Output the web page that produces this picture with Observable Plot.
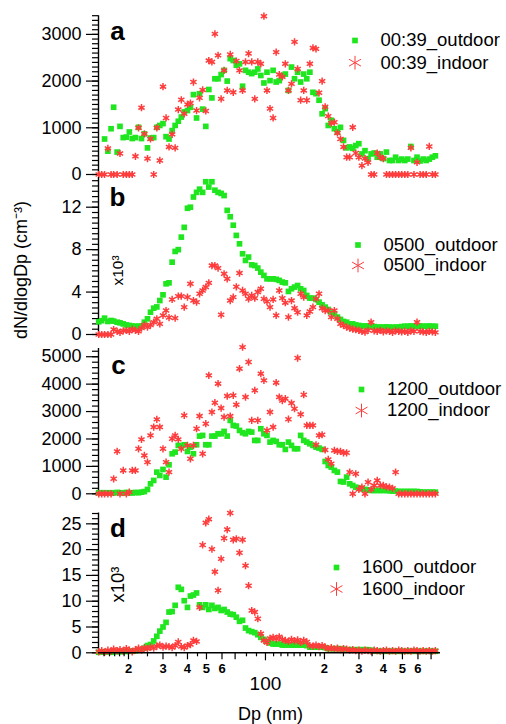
<!DOCTYPE html>
<html><head><meta charset="utf-8">
<script src="https://cdn.jsdelivr.net/npm/d3@7"></script>
<script src="https://cdn.jsdelivr.net/npm/@observablehq/plot@0.6"></script>
<style>
html,body{margin:0;padding:0;background:#fff;}
#chart{position:relative;width:506px;height:724px;font-family:"Liberation Sans",Arial,Helvetica,sans-serif;}
#chart svg{position:absolute;left:0;top:0;background:transparent;}
</style></head><body><div id="chart"></div>
<script>
// particle diameter channels (nm)
const dp = [14.1,14.6,15.1,15.7,16.3,16.8,17.5,18.1,18.8,19.5,
 20.2,20.9,21.7,22.5,23.3,24.1,25.0,25.9,26.9,27.9,
 28.9,30.0,31.1,32.2,33.4,34.6,35.9,37.2,38.5,40.0,
 41.4,42.9,44.5,46.1,47.8,49.6,51.4,53.3,55.2,57.3,
 59.4,61.5,63.8,66.1,68.5,71.0,73.7,76.4,79.1,82.0,
 85.1,88.2,91.4,94.7,98.2,101.8,105.5,109.4,113.4,117.6,
 121.9,126.3,131.0,135.8,140.7,145.9,151.2,156.8,162.5,168.5,
 174.7,181.1,187.7,194.6,201.7,209.1,216.7,224.7,232.9,241.4,
 250.3,259.5,269.0,278.8,289.0,299.6,310.6,322.0,333.8,346.0,
 358.7,371.8,385.4,399.5,414.2,429.4,445.1,461.4,478.3,495.8,
 514.0,532.8,552.3,572.5,593.5,615.3,637.8,661.2,685.4,710.5,
 736.5];

// panel a (cm^-3)
const aOut = [null,null,760,500,980,1440,480,1030,790,800,
 910,770,790,1010,770,870,570,780,790,1010,
 1050,1090,810,760,940,1050,1140,1230,1340,1370,
 1440,1710,1210,1730,1400,1030,1820,1640,2050,2050,
 2140,2230,2000,2480,2440,2340,2370,1890,2230,2190,
 2160,2190,2260,2120,1960,2190,2010,2230,1980,2010,
 2120,2150,1800,2300,2050,2190,1980,2150,2050,2190,
 1760,1730,1590,1300,1410,1050,1160,980,910,1010,
 730,570,590,560,620,660,440,510,340,440,
 460,370,440,340,480,300,300,370,300,330,
 300,330,600,300,370,290,330,300,330,370,
 400];
const aIn = [0,0,0,560,0,0,0,450,0,0,
 0,0,390,1000,1430,870,340,760,0,1000,
 300,1880,1210,590,860,570,1390,1600,1300,1500,
 1530,1980,1370,1640,1810,1360,2440,2410,3010,2550,
 1620,2230,1800,2570,1760,2430,2230,1800,2410,2590,
 2410,1620,2410,2370,3390,1800,1410,1210,2620,2140,
 2090,2370,1800,1940,2840,2260,1590,1800,1590,2370,
 2710,2690,1750,2000,1450,1250,1100,1120,890,760,
 590,370,370,1010,460,370,190,340,260,0,
 0,460,370,340,0,0,0,0,0,0,
 0,0,570,0,260,0,0,0,600,0,
 0];
// panel b (x10^3 cm^-3)
const bOut = [1.2,1.3,1.54,1.23,1.32,1.26,1.16,1.1,1.0,0.9,
 0.85,0.8,0.78,0.78,0.8,1.16,1.48,2.1,2.48,2.6,
 3.2,3.74,4.78,4.87,6.82,7.83,8.0,9.18,10.1,11.9,
 12.0,12.96,13.4,13.7,13.4,14.4,13.9,14.4,13.6,13.4,
 13.3,13.1,11.7,11.1,10.3,9.34,8.55,7.61,6.98,7.3,
 6.57,6.5,6.26,5.88,5.57,5.25,5.25,5.25,5.2,5.1,
 4.94,4.87,4.06,4.31,4.47,4.62,4.31,4.15,3.68,3.43,
 3.43,3.3,3.05,2.8,2.58,2.36,2.1,1.95,1.64,1.42,
 1.23,1.16,1.0,1.0,0.9,0.85,0.8,0.8,0.8,0.75,
 0.75,0.7,0.7,0.7,0.72,0.7,0.68,0.7,0.7,0.75,
 0.78,0.78,0.8,0.78,0.78,0.8,0.78,0.78,0.8,0.78,
 0.78];
const bIn = [0,0,0,0,0,0.47,0.3,0.2,0.35,0.4,
 0.3,0.5,0.4,0.3,0.6,0.9,0.7,0.9,1.16,1.48,
 1.0,1.8,2.26,1.6,3.3,1.54,3.62,3.62,2.58,3.52,
 4.78,3.2,3.05,3.84,4.15,4.47,4.87,6.5,6.5,6.26,
 1.86,5.72,5.25,3.2,3.52,4.5,5.79,4.15,3.84,3.36,
 3.68,3.43,4.0,4.31,3.36,3.11,2.58,3.3,1.8,4.15,
 3.43,3.0,1.64,3.2,2.48,2.1,3.84,3.52,1.8,2.17,
 2.58,3.36,3.84,2.48,2.26,2.26,1.64,2.26,1.48,1.0,
 0.85,0.7,0.6,0.5,0.45,0.4,0.3,0.22,0.4,1.16,
 0.35,0.3,0.4,0.25,0.35,0.3,0.2,0.35,0.3,0.25,
 0.3,0.2,0.35,0.3,1.16,0.3,0.25,0.2,0.3,0.25,
 0.2];
// panel c (cm^-3)
const cOut = [40,30,40,30,40,30,50,40,30,50,
 40,30,50,40,60,80,160,365,487,790,
 670,888,608,1059,1460,1521,1765,1740,1789,1546,
 1704,1460,1789,2105,2130,1789,1789,2105,2105,2190,
 2190,2276,2105,2677,2495,2470,2312,2227,2190,2276,
 2251,1947,1947,2373,2190,2130,1886,1947,1910,1789,
 1789,1619,1886,1765,1643,1643,2130,1947,1886,1825,
 1765,1704,1668,1619,1180,1034,974,852,791,450,
 430,608,365,304,243,210,183,160,140,122,
 122,122,122,122,122,110,100,100,85,85,
 85,85,85,85,85,70,60,60,60,60,
 60];
const cIn = [0,0,0,0,0,548,1546,0,852,0,
 60,852,852,1643,1984,1400,1156,2130,2434,2714,
 2434,1643,1156,791,2008,2130,1984,1643,2860,1765,
 1278,1765,2373,2836,1460,2556,4320,2982,3322,4016,
 3128,2800,3566,2836,3590,3250,4564,5350,3529,4807,
 2677,3773,2677,4381,4138,2312,2982,2434,4053,3529,
 3400,3470,2720,3310,3103,4953,2900,3614,2495,2495,
 2495,1789,2130,2154,1600,1253,1100,1582,1546,1546,
 1497,1497,791,0,730,158,243,0,426,158,
 300,487,304,304,250,243,200,791,0,0,
 0,0,0,0,0,0,0,0,0,0,
 0];
// panel d (x10^3 cm^-3)
const dOut = [0.1,0.2,0.15,0.2,0.1,0.2,0.25,0.2,0.3,0.25,
 0.3,0.3,0.4,0.5,0.6,0.9,1.4,1.6,2.3,3.2,
 4.2,5.0,5.9,7.9,8.0,9.2,12.7,12.3,10.1,8.8,
 11.0,11.2,11.6,9.3,8.8,9.3,8.4,9.2,8.6,8.8,
 8.2,8.4,7.9,7.5,7.4,6.9,6.1,6.3,4.8,4.3,
 4.1,3.9,3.5,3.0,2.6,2.2,1.9,1.7,1.7,1.7,
 1.5,1.5,1.5,1.5,1.5,1.5,1.5,1.5,1.4,1.1,
 1.1,1.1,1.1,1.1,1.0,0.8,0.8,0.8,0.8,0.8,
 0.7,0.6,0.6,0.6,0.6,0.6,0.6,0.6,0.6,0.5,
 0.4,0.3,0.3,0.3,0.3,0.3,0.3,0.3,0.3,0.3,
 0.3,0.3,0.3,0.3,0.3,0.3,0.3,0.3,0.3,0.3,
 0.3];
const dIn = [0.2,0.4,0.1,0.5,0.3,0.7,0.4,0.6,0.3,0.8,
 0.5,0.2,0.6,0.9,0.5,1.0,0.8,1.1,0.9,1.3,
 1.5,1.1,1.3,1.2,1.0,1.4,2.1,1.2,1.0,1.4,
 1.6,2.4,2.2,8.8,20.9,25.2,25.9,20.1,15.7,12.1,
 18.2,22.2,23.9,27.1,21.9,22.1,19.4,21.9,16.9,13.0,
 8.2,7.9,6.6,3.7,2.4,2.0,2.8,3.0,2.7,3.1,
 2.6,2.4,2.2,2.6,2.3,2.5,2.0,2.4,2.1,1.4,
 1.3,1.5,1.2,1.4,1.1,0.8,1.0,0.7,0.9,0.6,
 0.8,0.7,0.5,0.6,0.4,0.5,0.3,0.5,0.4,0.3,
 0.5,0.4,0.3,0.4,0.5,0.3,0.4,0.3,0.5,0.4,
 0.3,0.4,0.3,0.5,0.4,0.3,0.4,0.3,0.4,0.3,
 0.4];

const panelKeys = ["a","b","c","d"];
const legendOut = ["00:39_outdoor","0500_outdoor","1200_outdoor","1600_outdoor"];
const legendIn = ["00:39_indoor","0500_indoor","1200_indoor","1600_indoor"];
const yMajor = [[0,1000,2000,3000],[0,4,8,12],[0,1000,2000,3000,4000,5000],[0,5,10,15,20,25]];
const yMinorStep = [100, 0.5, 200, 1];
const yMax = [3400, 14.8, 5300, 27.1];
const xDomain = [14.06, 782];
const xMajor = [20,30,40,50,60,70,200,300,400,500,600,700];
const xMajorLabels = ["2","3","4","5","6","7","2","3","4","5","6","7"];
const xHundred = [100];
const xMinor = [15,16,17,18,19,25,35,45,80,90,110,120,130,140,150,160,170,180,190,250,350];
const yTitle = "dN/dlogDp (cm\u207B\u00B3)";
const xTitle = "Dp (nm)";
const unitNote = "x10\u00B3";

const series = [[aOut,aIn],[bOut,bIn],[cOut,cIn],[dOut,dIn]];

const GREEN = "#1fe61f", RED = "#ff3c3c";
// layout (pixels)
const layout = [
  {top:15.2, bottom:174,  letter:[19,15.5],  leg:[256.5,24.8,47], note:null},
  {top:177,  bottom:334,  letter:[19,20],  leg:[259.5,67.5,88], note:[19.5,93,15.5]},
  {top:348,  bottom:493.3,letter:[20,17],leg:[263,41,62], note:null},
  {top:512.5,bottom:652.3,letter:[19.5,16],leg:[238,54.5,76], note:[19.5,71.5,18.5]}
];

const chart = document.getElementById("chart");
const fontFamily = "'Liberation Sans', Arial, Helvetica, sans-serif";
const mid = {textAnchor: "middle", lineAnchor: "middle"};

panelKeys.forEach((key, k) => {
  const L = layout[k];
  const [outV, inV] = series[k];
  const data = dp.map((d, i) => ({dp: d, out: outV[i], ind: inV[i]}));
  const minor = d3.range(0, yMax[k] + 1e-9, yMinorStep[k]);
  const isBottom = k === 3;
  const marks = [
    Plot.axisY({ticks: minor, tickSize: 6, tickFormat: () => "", strokeWidth: 1.2}),
    Plot.axisY({ticks: yMajor[k], tickSize: 12, tickPadding: 5, fontSize: 18, tickFormat: d => String(d), strokeWidth: 1.2}),
    Plot.ruleX([xDomain[0]], {strokeWidth: 1.4}),
    Plot.dot(data.filter(d => d.out != null), {x: "dp", y: "out", symbol: "square", fill: GREEN, r: 3.2}),
    Plot.dot(data.filter(d => d.ind != null), {x: "dp", y: "ind", symbol: "asterisk", stroke: RED, r: 3.4, strokeWidth: 1.5}),
    Plot.text([key], {frameAnchor: "top-left", dx: L.letter[0], dy: L.letter[1], fontSize: 26, fontWeight: "bold", ...mid}),
    Plot.dot([0], {frameAnchor: "top-left", dx: L.leg[0], dy: L.leg[1], symbol: "square", fill: GREEN, r: 3.2}),
    Plot.dot([0], {frameAnchor: "top-left", dx: L.leg[0], dy: L.leg[2], symbol: "asterisk", stroke: RED, r: 6.5, strokeWidth: 1}),
    Plot.text([legendOut[k]], {frameAnchor: "top-left", dx: L.leg[0] + 25.5, dy: L.leg[1], textAnchor: "start", lineAnchor: "middle", fontSize: 18.5}),
    Plot.text([legendIn[k]], {frameAnchor: "top-left", dx: L.leg[0] + 25.5, dy: L.leg[2], textAnchor: "start", lineAnchor: "middle", fontSize: 18.5})
  ];
  if (L.note) {
    marks.push(Plot.text([unitNote], {frameAnchor: "top-left", dx: L.note[0], dy: L.note[1], rotate: -90, fontSize: L.note[2], ...mid}));
  }
  if (k === 1) {
    marks.push(Plot.text([yTitle], {frameAnchor: "left", dx: -77, dy: 14, rotate: -90, fontSize: 18, ...mid}));
  }
  if (isBottom) {
    marks.push(
      Plot.ruleY([0], {strokeWidth: 1.4}),
      Plot.axisX({ticks: xMinor, tickSize: 4, tickFormat: () => "", strokeWidth: 1.2}),
      Plot.axisX({ticks: xMajor, tickSize: 7, tickPadding: 4, fontSize: 13, fontWeight: "bold", strokeWidth: 1.2,
                  tickFormat: d => xMajorLabels[xMajor.indexOf(d)]}),
      Plot.axisX({ticks: xHundred, tickSize: 8, tickPadding: 16, fontSize: 19, strokeWidth: 1.2, tickFormat: d => String(d)}),
      Plot.text([xTitle], {frameAnchor: "bottom", dx: 1, dy: 61, fontSize: 18, ...mid})
    );
  }
  const svg = Plot.plot({
    width: 506, height: 724,
    marginLeft: 98, marginRight: 66,
    marginTop: L.top, marginBottom: 724 - L.bottom,
    x: {type: "log", domain: xDomain, label: null, axis: isBottom ? undefined : null},
    y: {domain: [0, yMax[k]], label: null},
    style: {background: "transparent", fontFamily, color: "black", overflow: "visible"},
    marks
  });
  chart.appendChild(svg);
});
</script></body></html>
